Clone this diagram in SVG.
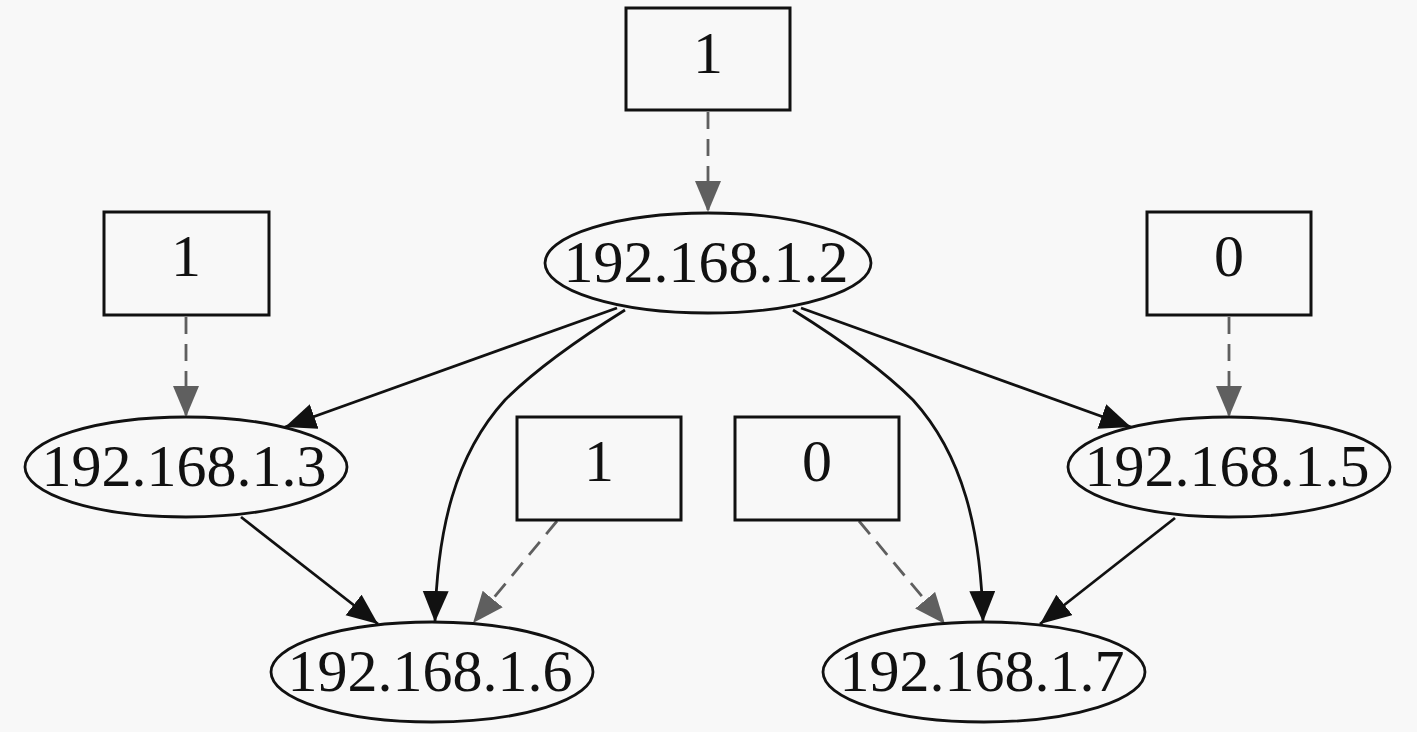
<svg xmlns="http://www.w3.org/2000/svg" width="1417" height="732" viewBox="0 0 1417 732">
<style>
.bg{fill:#f8f8f8}
.box{fill:#f8f8f8;stroke:#111;stroke-width:3}
.ell{fill:#f8f8f8;stroke:#111;stroke-width:2.8}
text{font-family:"Liberation Serif","DejaVu Serif",serif;font-size:60px;fill:#111;text-anchor:middle}
.e{fill:none;stroke:#111;stroke-width:2.8}
.d{fill:none;stroke:#5f5f5f;stroke-width:2.8;stroke-dasharray:17,10}
</style>
<defs>
<marker id="ab" markerUnits="userSpaceOnUse" markerWidth="34" markerHeight="28" refX="31" refY="13" orient="auto" viewBox="0 0 34 28"><path d="M0,0 L31,13 L0,26 z" fill="#111"/></marker>
<marker id="ag" markerUnits="userSpaceOnUse" markerWidth="34" markerHeight="28" refX="31" refY="13" orient="auto" viewBox="0 0 34 28"><path d="M0,0 L31,13 L0,26 z" fill="#5f5f5f"/></marker>
</defs>
<rect class="bg" x="0" y="0" width="1417" height="732"/>
<g id="connectors">
<path class="d" d="M708,112 L708,212" marker-end="url(#ag)"/>
<path class="d" d="M186,317 L186,417" marker-end="url(#ag)"/>
<path class="d" d="M1229,317 L1229,417" marker-end="url(#ag)"/>
<path class="e" d="M617,308 L285,427" marker-end="url(#ab)"/>
<path class="e" d="M625,310 C585,335 535,370 505,400 C455,455 437,530 435,622" marker-end="url(#ab)"/>
<path class="e" d="M793,310 C833,335 883,370 913,400 C963,455 981,530 983,622" marker-end="url(#ab)"/>
<path class="e" d="M801,308 L1131,427" marker-end="url(#ab)"/>
<path class="e" d="M241,517 L378,624" marker-end="url(#ab)"/>
<path class="d" d="M557,521 L473,623" marker-end="url(#ag)"/>
<path class="d" d="M859,521 L945,624" marker-end="url(#ag)"/>
<path class="e" d="M1175,518 L1040,624" marker-end="url(#ab)"/>
</g>
<g id="n_top"><rect class="box" x="626" y="8" width="164" height="102"/><text x="708" y="73">1</text></g>
<g id="n_left"><rect class="box" x="104" y="212" width="165" height="103"/><text x="186" y="276">1</text></g>
<g id="n_right"><rect class="box" x="1147" y="212" width="164" height="103"/><text x="1229" y="276">0</text></g>
<g id="n_mid1"><rect class="box" x="517" y="417" width="164" height="103"/><text x="599" y="481">1</text></g>
<g id="n_mid0"><rect class="box" x="735" y="417" width="164" height="103"/><text x="817" y="481">0</text></g>
<g id="n_12"><ellipse class="ell" cx="708" cy="263" rx="163" ry="50"/><text x="706" y="282">192.168.1.2</text></g>
<g id="n_13"><ellipse class="ell" cx="186" cy="467" rx="161" ry="50"/><text x="184" y="486">192.168.1.3</text></g>
<g id="n_15"><ellipse class="ell" cx="1229" cy="467" rx="161" ry="50"/><text x="1227" y="486">192.168.1.5</text></g>
<g id="n_16"><ellipse class="ell" cx="432" cy="672" rx="161" ry="50"/><text x="430" y="691">192.168.1.6</text></g>
<g id="n_17"><ellipse class="ell" cx="984" cy="672" rx="161" ry="50"/><text x="982" y="691">192.168.1.7</text></g>
</svg>
